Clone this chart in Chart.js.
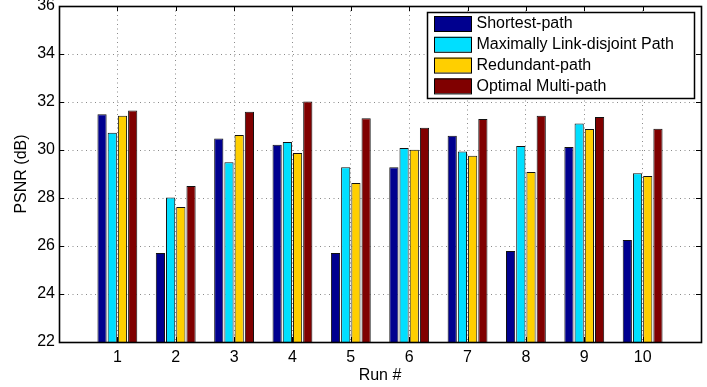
<!DOCTYPE html>
<html>
<head>
<meta charset="utf-8">
<script src="https://cdn.jsdelivr.net/npm/chart.js@4/dist/chart.umd.min.js"></script>
<style>
  html, body { margin: 0; padding: 0; background: #fff; }
  #wrap { width: 707px; height: 387px; }
</style>
</head>
<body>
<div id="wrap"><canvas id="c" width="707" height="387"></canvas></div>
<script>
const runs = ['1', '2', '3', '4', '5', '6', '7', '8', '9', '10'];
const shortestPath = [31.49, 25.71, 30.48, 30.22, 25.71, 29.28, 30.59, 25.79, 30.12, 26.25];
const linkDisjoint = [30.72, 28.02, 29.49, 30.33, 29.28, 30.08, 29.94, 30.17, 31.10, 29.03];
const redundantPath = [31.43, 27.62, 30.62, 29.87, 28.62, 30.01, 29.76, 29.08, 30.87, 28.92];
const optimalMulti = [31.65, 28.50, 31.59, 32.02, 31.32, 30.93, 31.29, 31.43, 31.38, 30.89];
const seriesNames = ['Shortest-path', 'Maximally Link-disjoint Path', 'Redundant-path', 'Optimal Multi-path'];
const seriesColors = ['#00008F', '#00DFFF', '#FFCF00', '#800000'];
const yTicks = [22, 24, 26, 28, 30, 32, 34, 36];

const FONT = 'Liberation Sans, Arial, Helvetica, sans-serif';
const pad = arr => [null, ...arr, null];
const labels = ['', ...runs, ''];

const boxPlugin = {
  id: 'boxPlugin',
  afterDraw(chart) {
    const ctx = chart.ctx;
    const a = chart.chartArea;
    const xs = chart.scales.x, ys = chart.scales.y;
    ctx.save();
    ctx.strokeStyle = '#000';
    ctx.lineWidth = 1;
    ctx.setLineDash([]);
    // inward tick marks
    const tl = 5;
    ctx.beginPath();
    for (let i = 1; i < labels.length - 1; i++) {
      const x = Math.round(xs.getPixelForValue(i)) + 0.5;
      ctx.moveTo(x, a.bottom); ctx.lineTo(x, a.bottom - tl);
      ctx.moveTo(x, a.top); ctx.lineTo(x, a.top + tl);
    }
    yTicks.forEach(v => {
      const y = Math.round(ys.getPixelForValue(v)) + 0.5;
      ctx.moveTo(a.left, y); ctx.lineTo(a.left + tl, y);
      ctx.moveTo(a.right, y); ctx.lineTo(a.right - tl, y);
    });
    ctx.stroke();
    // axes box
    ctx.lineWidth = 1.6;
    ctx.strokeRect(Math.round(a.left) + 0.5, Math.round(a.top) + 0.5,
                   Math.round(a.right - a.left), Math.round(a.bottom - a.top));

    // legend
    const lx = 427.5, ly = 12.5, lw = 267, lh = 86;
    ctx.fillStyle = '#fff';
    ctx.fillRect(lx, ly, lw, lh);
    ctx.lineWidth = 1.5;
    ctx.strokeRect(lx, ly, lw, lh);
    ctx.font = '16px ' + FONT;
    ctx.textBaseline = 'middle';
    ctx.textAlign = 'left';
    chart.data.datasets.forEach((ds, i) => {
      const sy = 16 + i * 20.8;
      ctx.fillStyle = ds.backgroundColor;
      ctx.fillRect(434.5, sy, 37, 15);
      ctx.lineWidth = 1;
      ctx.strokeStyle = '#000';
      ctx.strokeRect(434.5, sy + 0.5, 37, 15);
      ctx.fillStyle = '#000';
      ctx.fillText(ds.label, 476.5, sy + 8);
    });
    ctx.restore();
  }
};

const datasets = [shortestPath, linkDisjoint, redundantPath, optimalMulti].map((d, i) => ({
  label: seriesNames[i],
  data: pad(d),
  backgroundColor: seriesColors[i],
  borderColor: '#111',
  borderWidth: 1,
  categoryPercentage: 0.70,
  barPercentage: 0.9
}));

new Chart(document.getElementById('c'), {
  type: 'bar',
  data: { labels, datasets },
  options: {
    responsive: false,
    animation: false,
    devicePixelRatio: 1,
    layout: { padding: { top: 0, right: 6, left: 0, bottom: 0 } },
    plugins: { legend: { display: false }, tooltip: { enabled: false } },
    scales: {
      x: {
        type: 'category',
        offset: false,
        grid: { display: true, color: '#8a8a8a', lineWidth: 1, drawTicks: false, offset: false },
        border: { display: false, dash: [1, 3.5] },
        ticks: { autoSkip: false, maxRotation: 0, padding: 6, color: '#000', font: { family: FONT, size: 16 } },
        title: { display: true, text: 'Run #', color: '#000', font: { family: FONT, size: 16 }, padding: { top: 0, bottom: 2 } },
        afterFit(s) { s.height = 45; }
      },
      y: {
        min: 22, max: 36,
        afterBuildTicks(s) { s.ticks = yTicks.map(v => ({ value: v })); },
        grid: { display: true, color: '#8a8a8a', lineWidth: 1, drawTicks: false },
        border: { display: false, dash: [1, 3.5] },
        ticks: { padding: 4, color: '#000', font: { family: FONT, size: 16, lineHeight: 0.25 } },
        title: { display: true, text: 'PSNR (dB)', color: '#000', font: { family: FONT, size: 16 }, padding: { top: 12, bottom: 0 } },
        afterFit(s) { s.width = 59; }
      }
    }
  },
  plugins: [boxPlugin]
});
</script>
</body>
</html>
